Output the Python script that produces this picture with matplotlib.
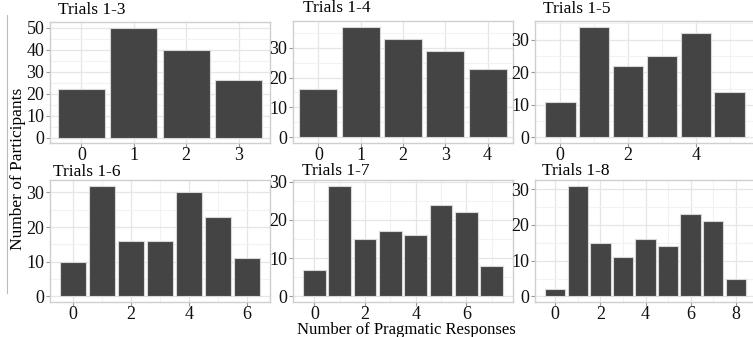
import numpy as np
import matplotlib
matplotlib.use("Agg")
import matplotlib.pyplot as plt
from matplotlib.ticker import MultipleLocator, FixedLocator

# counts of participants per number of pragmatic responses
titles = ["Trials 1-3", "Trials 1-4", "Trials 1-5",
          "Trials 1-6", "Trials 1-7", "Trials 1-8"]
counts_1_3 = [22, 50, 40, 26]
counts_1_4 = [16, 37, 33, 29, 23]
counts_1_5 = [11, 34, 22, 25, 32, 14]
counts_1_6 = [10, 32, 16, 16, 30, 23, 11]
counts_1_7 = [7, 29, 15, 17, 16, 24, 22, 8]
counts_1_8 = [2, 31, 15, 11, 16, 14, 23, 21, 5]
all_counts = [counts_1_3, counts_1_4, counts_1_5, counts_1_6, counts_1_7, counts_1_8]

W, H = 753, 337
plt.rcParams['font.family'] = ['Liberation Serif', 'DejaVu Serif']
fig = plt.figure(figsize=(W / 100, H / 100), dpi=100)

def px_axes(x0, y0, x1, y1):
    # pixel box (top-left origin) -> figure axes
    return fig.add_axes([x0 / W, 1 - y1 / H, (x1 - x0) / W, (y1 - y0) / H])

# panel boxes in pixels: left, top, right, bottom
boxes = [(50, 22, 270, 143), (293, 21, 513, 143), (535, 21, 755, 143),
         (50, 180, 270, 302), (293, 180, 513, 302), (535, 180, 756, 302)]
title_pos = [(58, 10), (303, 8), (543, 9), (53, 172), (302, 171), (542, 171)]

bar_col = '#444444'
grid_major = '#e6e6e6'
grid_minor = '#f2f2f2'
frame_col = '#cfcfcf'

for i, counts in enumerate(all_counts):
    ax = px_axes(*boxes[i])
    n = len(counts)
    x = np.arange(n)
    ax.bar(x, counts, width=0.9, color=bar_col, edgecolor='#d8d8d8',
           linewidth=0.8, zorder=3)
    ymax = max(counts)
    ax.set_ylim(-0.05 * ymax, 1.05 * ymax)
    if i < 2:
        ax.set_xlim(-0.6, n - 0.4)
        ax.xaxis.set_major_locator(FixedLocator(list(x)))
    else:
        pad = 0.05 * (n - 0.1)
        ax.set_xlim(-0.45 - pad, n - 0.55 + pad)
        ax.xaxis.set_major_locator(MultipleLocator(2))
        ax.xaxis.set_minor_locator(MultipleLocator(1))
        ax.grid(True, which='minor', axis='x', color=grid_minor, linewidth=0.8, zorder=0)
    ax.yaxis.set_major_locator(MultipleLocator(10))
    ax.yaxis.set_minor_locator(MultipleLocator(5))
    ax.grid(True, which='major', color=grid_major, linewidth=0.9, zorder=0)
    ax.grid(True, which='minor', axis='y', color=grid_minor, linewidth=0.8, zorder=0)
    ax.set_axisbelow(True)
    for s in ax.spines.values():
        s.set_color(frame_col)
        s.set_linewidth(1.0)
    ax.tick_params(which='major', length=3, color='#999999', labelsize=13,
                   labelcolor='#111111', pad=1)
    ax.tick_params(axis='x', pad=0)
    ax.tick_params(which='minor', length=0)
    tx, ty = title_pos[i]
    fig.text(tx / W, 1 - ty / H, titles[i], fontsize=12.5, ha='left', va='center')

fig.text(18 / W, 1 - 169 / H, 'Number of Participants', rotation=90,
         fontsize=12.5, ha='center', va='center')
fig.text(406 / W, 1 - 329.5 / H, 'Number of Pragmatic Responses',
         fontsize=12, ha='center', va='center')

# faint frame at far left of the composite
fig.add_artist(plt.Line2D([7 / W, 7 / W], [1 - 15 / H, 1 - 293 / H],
                          color='#bbbbbb', linewidth=0.8))

fig.savefig('out.png', dpi=100)
